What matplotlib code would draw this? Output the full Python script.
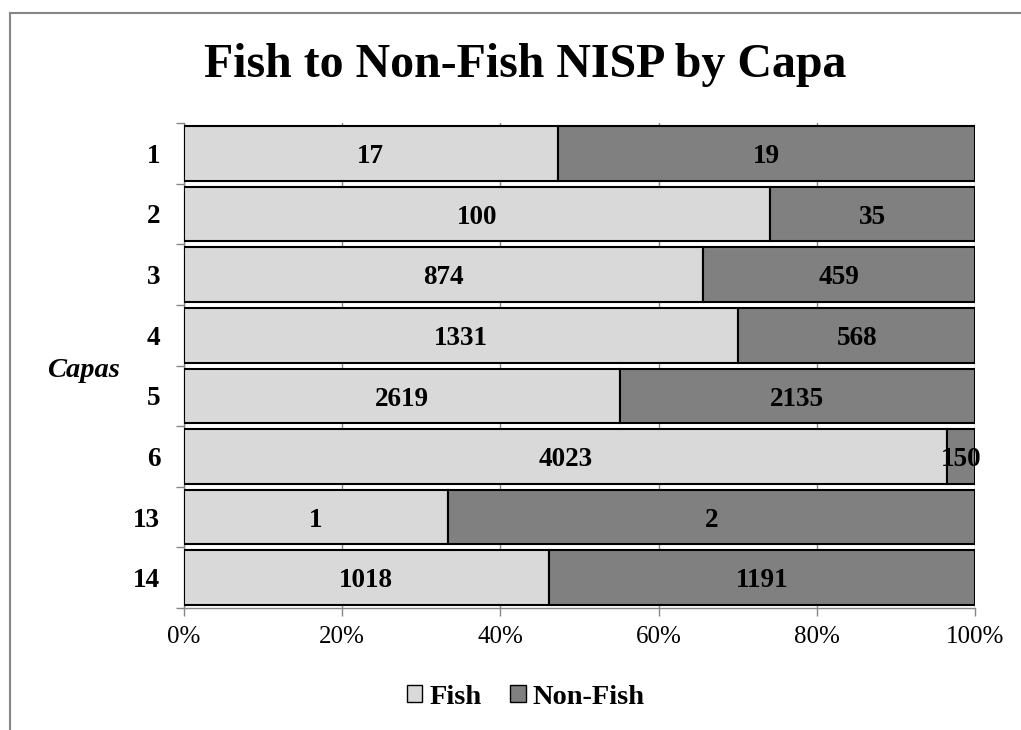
#!/usr/bin/env python3
import sys

import matplotlib
matplotlib.use("Agg")
import matplotlib.pyplot as plt
import numpy as np
from matplotlib.lines import Line2D
from matplotlib.patches import Patch

CAPAS = ["1", "2", "3", "4", "5", "6", "13", "14"]
FISH = [17, 100, 874, 1331, 2619, 4023, 1, 1018]
NON_FISH = [19, 35, 459, 568, 2135, 150, 2, 1191]
X_TICKS = [0, 20, 40, 60, 80, 100]

FISH_COLOR = "#D9D9D9"
NON_FISH_COLOR = "#808080"
AXIS_GRAY = "#868686"


def main():
    plt.rcParams["font.family"] = ["Liberation Serif", "DejaVu Serif"]

    fish = np.array(FISH, dtype=float)
    non_fish = np.array(NON_FISH, dtype=float)
    total = fish + non_fish
    fish_pct = fish / total * 100
    non_fish_pct = non_fish / total * 100

    fig = plt.figure(figsize=(10.21, 7.30), dpi=100)
    ax = fig.add_axes([0.1802, 0.167, 0.7748, 0.6645])

    y = np.arange(len(CAPAS))
    bars_f = ax.barh(y, fish_pct, height=0.9, color=FISH_COLOR,
                     edgecolor="black", linewidth=1.5, zorder=3)
    bars_n = ax.barh(y, non_fish_pct, left=fish_pct, height=0.9,
                     color=NON_FISH_COLOR, edgecolor="black", linewidth=1.5,
                     zorder=3)

    # value labels, baseline set a bit below the bar centre like Excel does
    for bars, vals in ((bars_f, FISH), (bars_n, NON_FISH)):
        for b, v in zip(bars, vals):
            cx = b.get_x() + b.get_width() / 2
            cy = b.get_y() + b.get_height() / 2
            ax.annotate(str(v), (cx, cy), xytext=(0, -7.0),
                        textcoords="offset points", ha="center",
                        va="baseline", fontsize=19.5, fontweight="bold",
                        zorder=4)

    ax.set_xlim(0, 100)
    ax.set_ylim(len(CAPAS) - 0.5, -0.5)
    ax.set_xticks(X_TICKS)
    ax.set_xticklabels([f"{t}%" for t in X_TICKS], fontsize=18)
    ax.set_yticks(y)
    ax.set_yticklabels(CAPAS, fontsize=19.5, fontweight="bold")
    ax.set_yticks(np.arange(-0.5, len(CAPAS)), minor=True)

    ax.tick_params(axis="y", which="major", length=0, pad=17)
    ax.tick_params(axis="y", which="minor", length=6, color=AXIS_GRAY,
                   width=1)
    ax.tick_params(axis="x", length=6, color=AXIS_GRAY, width=1, pad=7)

    ax.grid(axis="x", color=AXIS_GRAY, linewidth=1, zorder=0)
    ax.set_axisbelow(True)
    for side in ("top", "right"):
        ax.spines[side].set_visible(False)
    for side in ("left", "bottom"):
        ax.spines[side].set_color(AXIS_GRAY)
        ax.spines[side].set_linewidth(1)

    fig.text(0.082, 0.493, "Capas", fontsize=20.5, fontweight="bold",
             fontstyle="italic", ha="center", va="center")
    fig.text(0.514, 0.8945, "Fish to Non-Fish NISP by Capa", fontsize=34.5,
             fontweight="bold", ha="center", va="baseline")

    handles = [Patch(facecolor=FISH_COLOR, edgecolor="black", label="Fish"),
               Patch(facecolor=NON_FISH_COLOR, edgecolor="black",
                     label="Non-Fish")]
    fig.legend(handles=handles, loc="center", bbox_to_anchor=(0.515, 0.045),
               ncol=2, frameon=False, prop={"size": 20.5, "weight": "bold"},
               handlelength=0.55, handleheight=0.55, handletextpad=0.25,
               columnspacing=1.0)

    # chart border (only top and left edges are visible in the crop)
    fig.add_artist(Line2D([0.0098, 1.0], [0.982, 0.982], color=AXIS_GRAY,
                          linewidth=1.5, transform=fig.transFigure))
    fig.add_artist(Line2D([0.0098, 0.0098], [0.982, 0.0], color=AXIS_GRAY,
                          linewidth=1.5, transform=fig.transFigure))

    fig.savefig("out.png", dpi=100)
    return 0


if __name__ == "__main__":
    sys.exit(main())
